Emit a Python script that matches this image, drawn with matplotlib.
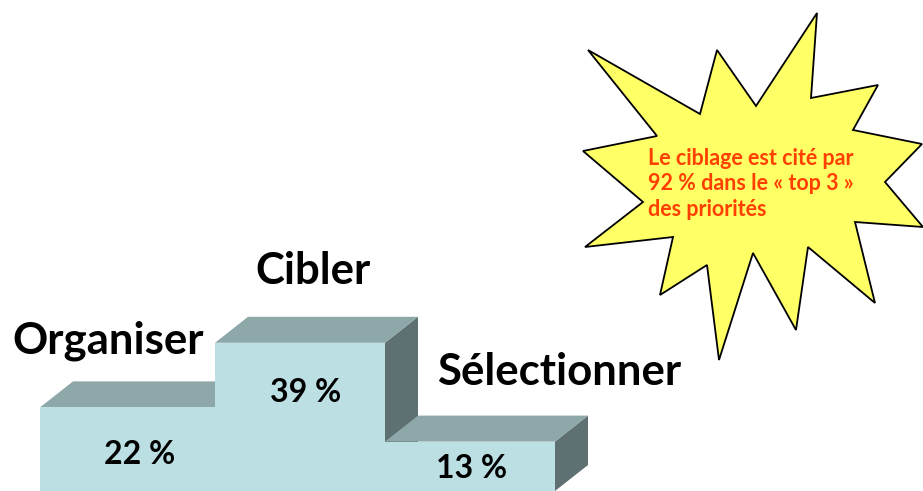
import matplotlib.pyplot as plt
from matplotlib.patches import Polygon

# podium data
labels = ["Organiser", "Cibler", "Sélectionner"]
values = [22, 39, 13]
value_labels = ["22 %", "39 %", "13 %"]
note = "Le ciblage est cité par\n92 % dans le « top 3 »\ndes priorités"

# layout (pixels)
W, H = 923, 491
px_per_pct = 3.8
lefts = [40, 215, 385]
widths = [175, 170, 170]
dx, dy = 33, 26

front_col = "#BBDFE3"
top_col = "#8EA8AA"
side_col = "#5E7072"

plt.rcParams["font.family"] = ["Lato", "DejaVu Sans"]

fig = plt.figure(figsize=(W / 100, H / 100), dpi=100)
ax = fig.add_axes([0, 0, 1, 1])
ax.set_xlim(0, W)
ax.set_ylim(0, H / px_per_pct)
ax.axis("off")

ddy = dy / px_per_pct
for i, (x0, w, v) in enumerate(zip(lefts, widths, values)):
    x1 = x0 + w
    # side face
    ax.add_patch(Polygon([(x1, 0), (x1 + dx, ddy), (x1 + dx, v + ddy), (x1, v)],
                         closed=True, fc=side_col, ec="none"))
    # top face
    ax.add_patch(Polygon([(x0, v), (x1, v), (x1 + dx, v + ddy), (x0 + dx, v + ddy)],
                         closed=True, fc=top_col, ec="none"))
    # front face
    ax.bar(x0, v, width=w, align="edge", color=front_col, edgecolor="none")

# overlay in pixel coordinates for labels and the starburst
ov = fig.add_axes([0, 0, 1, 1])
ov.set_xlim(0, W)
ov.set_ylim(H, 0)
ov.axis("off")
ov.patch.set_alpha(0)

label_pos = [(108, 341, "center"), (313, 271, "center"), (437, 372, "left")]
for lab, (x, y, ha) in zip(labels, label_pos):
    ov.text(x, y, lab, ha=ha, va="center", fontsize=31.5, fontweight="bold", color="black")

val_pos = [(140, 455), (306, 393), (472, 468)]
for t, (x, y) in zip(value_labels, val_pos):
    ov.text(x, y, t, ha="center", va="center", fontsize=23, fontweight="bold", color="black")

star = [(817, 13), (811, 98), (878, 85), (853, 130), (922, 144), (885, 182),
        (923, 227), (855, 222), (875, 303), (808, 247), (796, 330), (753, 253),
        (719, 360), (707, 265), (660, 295), (673, 237), (585, 247), (643, 202),
        (583, 151), (657, 136), (588, 50), (700, 114), (717, 50), (756, 106)]
ov.add_patch(Polygon(star, closed=True, fc="#FFFF66", ec="black", lw=1.3))
ov.text(648, 184, note, ha="left", va="center", fontsize=15.5, fontweight="bold",
        color="#FF4000", linespacing=1.28)

fig.savefig("out.png", dpi=100)
